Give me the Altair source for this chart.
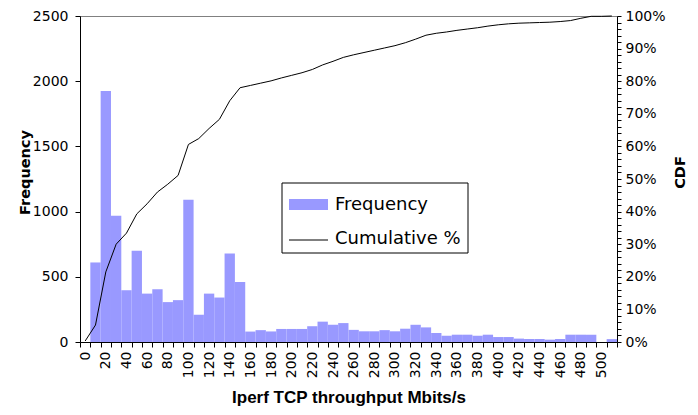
import altair as alt
import pandas as pd

# ---- data ----
bins = [str(v) for v in range(0, 510, 10)] + ["More"]
freq = [0, 610, 1925, 968, 397, 699, 371, 405, 306, 321,
        1090, 209, 371, 341, 679, 460, 80, 91, 81, 100,
        100, 100, 121, 156, 133, 145, 93, 82, 82, 91,
        82, 102, 132, 112, 69, 48, 56, 56, 48, 56,
        38, 38, 26, 23, 23, 18, 23, 56, 56, 56,
        0, 22]
cdf = [0.003, 0.052, 0.215, 0.300, 0.334, 0.393, 0.424, 0.460, 0.484, 0.511,
       0.606, 0.624, 0.655, 0.683, 0.740, 0.780, 0.787, 0.794, 0.801, 0.810,
       0.818, 0.826, 0.836, 0.850, 0.861, 0.873, 0.881, 0.888, 0.895, 0.902,
       0.909, 0.918, 0.929, 0.941, 0.947, 0.951, 0.956, 0.960, 0.964, 0.969,
       0.973, 0.976, 0.978, 0.979, 0.980, 0.981, 0.983, 0.986, 0.993, 0.999,
       0.999, 1.000]
freq_ticks = [0, 500, 1000, 1500, 2000, 2500]
cdf_ticks = [i / 50 for i in range(51)]

df = pd.DataFrame({"bin": bins, "freq": freq, "cdf": cdf})

W, H = 537, 326
LFONT = "DejaVu Sans"
TFONT = "Liberation Sans"
BAR = "#9999ff"

x_enc = alt.X(
    "bin:N", sort=bins,
    scale=alt.Scale(paddingInner=0, paddingOuter=0),
    axis=alt.Axis(
        title="Iperf TCP throughput Mbits/s",
        labelAngle=270, labelAlign="right", labelBaseline="middle",
        labelExpr="(datum.value % 20 == 0) ? datum.label : ''",
        labelOverlap=False, tickBand="extent", tickSize=5, labelPadding=4,
        labelFontSize=14, titleFont=TFONT, titleFontSize=17, titleFontWeight="bold",
        titleY=60, titleBaseline="alphabetic",
    ),
)

bars = alt.Chart(df).mark_bar(color=BAR, stroke=None).encode(
    x=x_enc,
    y=alt.Y("freq:Q", scale=alt.Scale(domain=[0, 2500], nice=False),
            axis=alt.Axis(values=freq_ticks, format="d", title="Frequency", grid=False,
                          tickSize=5, labelPadding=7, labelFontSize=14,
                          titleFont=LFONT, titleFontSize=14.5, titleFontWeight="bold",
                          titleAngle=270, titleX=-55, titleY=156,
                          titleAlign="center", titleBaseline="middle")),
)

line = alt.Chart(df).mark_line(color="black", strokeWidth=1).encode(
    x=alt.X("bin:N", sort=bins),
    y=alt.Y("cdf:Q", scale=alt.Scale(domain=[0, 1], nice=False),
            axis=alt.Axis(orient="right", values=cdf_ticks, format=".0%",
                          labelExpr="(round(datum.value*100) % 10 == 0) ? datum.label : ''",
                          grid=False, tickSize=4, labelPadding=4, labelFontSize=14,
                          title="CDF", titleFont=LFONT, titleFontSize=14.5,
                          titleFontWeight="bold",
                          titleAngle=270, titleX=63, titleY=156,
                          titleAlign="center", titleBaseline="middle")),
)

one = pd.DataFrame({"k": [0]})
leg_box = alt.Chart(one).mark_rect(fill="white", stroke="black", strokeWidth=1).encode(
    x=alt.value(202), x2=alt.value(388), y=alt.value(167), y2=alt.value(237))
leg_sw = alt.Chart(one).mark_rect(fill=BAR).encode(
    x=alt.value(209), x2=alt.value(248), y=alt.value(183), y2=alt.value(194))
leg_ln = alt.Chart(one).mark_rule(color="black", strokeWidth=1).encode(
    x=alt.value(209), x2=alt.value(248), y=alt.value(224))
leg_t1 = alt.Chart(one).mark_text(align="left", baseline="middle", font=LFONT,
                                  fontSize=18, color="black").encode(
    x=alt.value(255), y=alt.value(189), text=alt.value("Frequency"))
leg_t2 = alt.Chart(one).mark_text(align="left", baseline="middle", font=LFONT,
                                  fontSize=18, color="black").encode(
    x=alt.value(255), y=alt.value(223), text=alt.value("Cumulative %"))

chart = alt.layer(bars, line, leg_box, leg_sw, leg_ln, leg_t1, leg_t2).resolve_scale(
    y="independent"
).properties(
    width=W, height=H,
    autosize=alt.AutoSizeParams(type="none"),
    padding={"left": 72, "top": 8, "right": 73, "bottom": 65},
).configure_view(
    stroke="#808080", strokeWidth=1
).configure_axis(
    labelFont=LFONT, titleFont=TFONT, labelColor="black", titleColor="black",
    domainColor="black", tickColor="black",
)

chart.save("out.html", embed_options={"renderer": "svg", "actions": False})
